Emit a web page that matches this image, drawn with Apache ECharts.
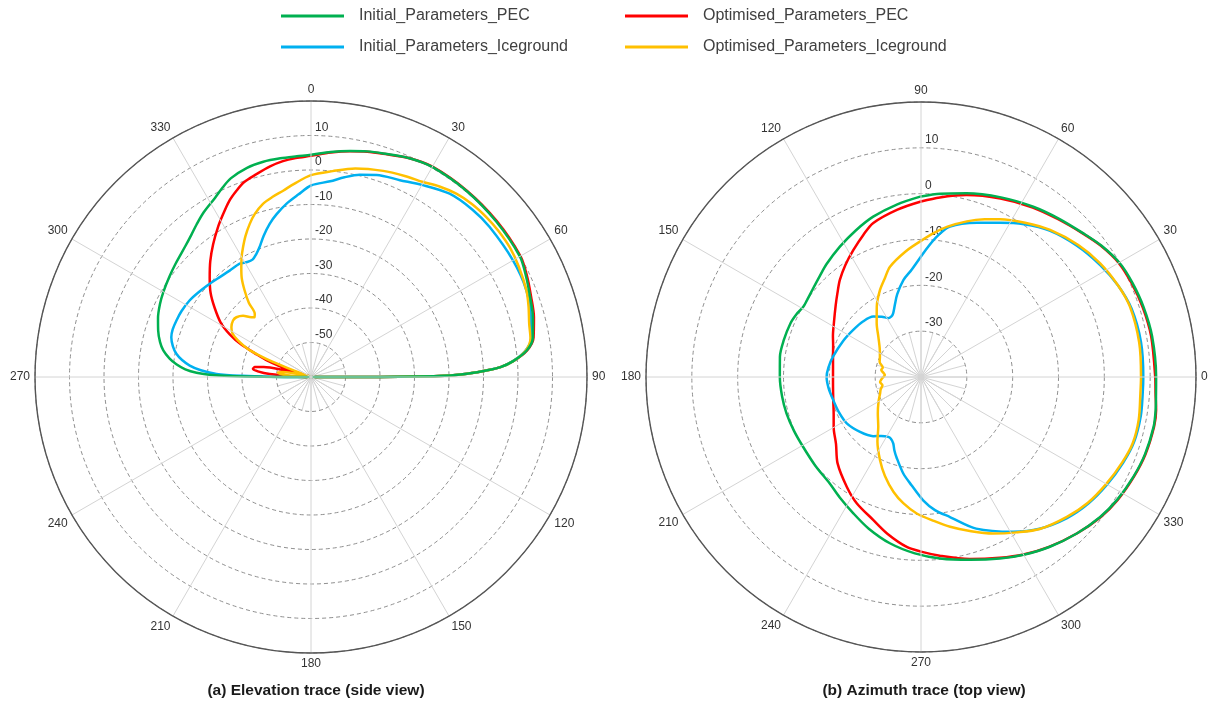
<!DOCTYPE html>
<html>
<head>
<meta charset="utf-8">
<script src="https://cdn.jsdelivr.net/npm/echarts@6/dist/echarts.min.js"></script>
<style>
  html, body { margin: 0; padding: 0; background: #ffffff; }
  #chart { width: 1208px; height: 702px; }
</style>
</head>
<body>
<div id="chart"></div>
<script>
// Series names and colours
const seriesNames = ['Initial_Parameters_PEC', 'Optimised_Parameters_PEC',
                     'Initial_Parameters_Iceground', 'Optimised_Parameters_Iceground'];
const seriesColors = ['#00B050', '#FF0000', '#00B0F0', '#FFC000'];

// Panel captions
const captionElevation = '(a) Elevation trace (side view)';
const captionAzimuth = '(b) Azimuth trace (top view)';

// Gain scales (dB)
const elevRange = [-60, 20];
const azimRange = [-40, 20];
const gainStep = 10;
const angleStep = 30;

// Elevation trace: [angle deg (0 = up, clockwise), gain dB]
const elevInitialPEC = [
  [270, -60], [270.3, -46], [270.7, -36.4], [271.3, -30.5], [272.1, -26.8], [273.5, -23.5],
  [275.4, -20.8], [277.5, -18.6], [280.2, -16.5], [283, -15.1], [286.9, -13.7], [291, -12.5],
  [295.7, -11.4], [300, -10.6], [305.3, -9.7], [310, -8.8], [316.2, -7.4], [320, -6.1],
  [323.2, -4.7], [327, -3.0], [331.8, -1.1], [335, 0.6], [338, 2.1], [343, 3.4], [347.5, 3.9],
  [352, 4.0], [356.3, 4.1], [0, 4.4], [5, 5.5], [9.8, 6.5], [14, 7.4], [17.9, 8.1],
  [24, 9.5], [30, 10.3], [40, 10.3], [50, 10.1], [60, 9.9], [65, 8.8], [70, 7.6], [75, 6.6],
  [80, 5.3], [83, 3.0], [85.5, -1.2], [87, -5.0], [88, -10], [89, -16], [89.6, -23], [89.9, -40], [90, -60]
];
const elevOptimisedPEC = [
  [270, -60], [272, -55], [274, -48], [276, -44.5], [278, -43], [280, -43.5], [282, -46],
  [284, -51], [286, -58], [287, -60], [288, -55], [289, -50.5], [290.5, -46.5], [292.6, -42.9],
  [295, -37.6], [297.7, -33.4], [301, -29.5], [305.7, -25.6], [310, -22.0], [314.4, -18.9],
  [319, -15.5], [323.6, -12.2], [328, -9.0], [331.6, -6.4], [335, -3.8], [338.1, -1.9],
  [341, -0.3], [345, 0.9], [349, 2.2], [352.6, 3.1], [356, 3.6], [0, 4.1], [5, 5.3],
  [9.8, 6.4], [14, 7.3], [17.9, 8.0], [24, 9.5], [30, 10.4], [40, 10.4], [50, 10.3],
  [60, 10.1], [65, 9.1], [70, 7.9], [75, 6.9], [80, 5.5], [83, 3.1], [85.5, -1.1],
  [87, -5.0], [88, -10], [89, -16], [89.6, -23], [89.9, -40], [90, -60]
];
const elevInitialIce = [
  [270, -60], [270.4, -48], [271, -40], [271.9, -32.6], [273.5, -28], [275.4, -24.7],
  [277.5, -22.3], [279.8, -20.4], [282.5, -19.0], [285.9, -17.9], [289, -17.6], [292.8, -17.7],
  [297, -17.9], [302.2, -18.4], [307, -19.2], [312.6, -20.1], [317, -20.7], [322.6, -21.2],
  [327.8, -21.2], [331, -21.9], [333.5, -22.0], [336, -21.0], [338.4, -19.5], [341.5, -16.8],
  [344.9, -14.0], [348, -11.8], [351.9, -9.3], [356, -7.0], [0, -4.5], [5.6, -3.0],
  [9.5, -1.3], [13.5, 0.3], [18, 1.6], [24.3, 2.6], [30, 4.3], [37.1, 6.6], [44, 7.4],
  [50, 7.6], [60, 7.6], [68, 7.3], [75, 6.0], [80, 4.8], [83, 2.6], [85.5, -1.3],
  [87, -5.0], [88, -10], [89, -16], [89.6, -23], [89.9, -40], [90, -60]
];
const elevOptimisedIce = [
  [270, -60], [272, -57], [274, -53], [276, -51], [278, -50.3], [280, -51.5], [282, -54],
  [284, -57], [286, -59], [289, -60], [290.5, -55], [291.5, -50], [292.4, -45], [294, -40],
  [296.6, -36.3], [299, -34.0], [302, -32.8], [305.9, -32.1], [308.7, -32.3], [312, -33.5],
  [315, -35.5], [316.7, -36.2], [318.3, -35.5], [320, -32.0], [322.5, -28.4], [325, -25.0],
  [327.6, -22.3], [330, -19.8], [332.4, -17.5], [335, -15.0], [338.2, -12.2], [341, -10.0],
  [344.5, -7.9], [348, -6.6], [351.5, -5.4], [355, -3.8], [0, -1.5], [6, 0.0], [12, 1.8],
  [19.3, 3.3], [25, 4.3], [29.9, 5.2], [34, 6.6], [38.4, 7.8], [43, 8.5], [47.7, 8.8],
  [52, 8.9], [56.9, 8.8], [62, 8.2], [68.1, 7.3], [72, 6.3], [76.3, 5.1], [80, 4.6],
  [83, 2.7], [85.5, -1.2], [87, -5.0], [88, -10], [89, -16], [89.6, -23], [89.9, -40], [90, -60]
];

// Azimuth trace: [angle deg (0 = right, counter-clockwise), gain dB]
const azimInitialPEC = [
  [0, 11.3], [10, 11.2], [17.5, 10.9], [24, 10.5], [29.7, 10.0], [36, 8.7], [41.5, 7.3],
  [49, 5.8], [56.6, 4.5], [66, 2.9], [76.1, 1.3], [84, 0.2], [90, -0.6], [98, -2.0],
  [106.6, -3.5], [114, -5.0], [121.9, -6.5], [130, -7.9], [135, -8.8], [141.1, -9.6],
  [146, -10.0], [149.2, -10.1], [153, -9.6], [157.7, -9.2], [165, -9.0], [171.8, -8.9],
  [180, -9.2], [188, -9.4], [195.1, -9.6], [203, -9.9], [210.6, -10.1], [220, -9.9],
  [229.4, -9.4], [236, -8.3], [243.6, -6.8], [251, -5.0], [259.4, -3.1], [268, -1.5],
  [276, -0.2], [285, 1.3], [293.5, 3.2], [300, 4.8], [307.2, 6.5], [315, 8.2], [322, 9.6],
  [328, 10.5], [334.8, 11.2], [341, 11.7], [347.9, 11.9], [352, 11.7], [356, 11.4]
];
const azimOptimisedPEC = [
  [0, 11.1], [10, 11.0], [17.5, 10.7], [24, 10.3], [30, 9.8], [36, 8.6], [41.5, 7.2],
  [49, 5.6], [56.6, 4.3], [66, 2.6], [76, 0.9], [84, -0.6], [90, -1.7], [98, -3.1],
  [107.2, -4.8], [112, -6.5], [118, -8.6], [124, -10.5], [129.9, -12.4], [135, -14.2],
  [140, -15.7], [148, -17.6], [155, -18.8], [160, -19.6], [167, -20.3], [174, -20.7],
  [180, -20.8], [186, -20.7], [190.5, -20.5], [196, -20.1], [203, -19.3], [210, -18.0],
  [218.2, -16.4], [226, -13.8], [235.9, -11.1], [243, -9.1], [251.6, -7.1], [258, -5.0],
  [265.2, -2.8], [270, -1.9], [276, -0.8], [285, 1.1], [293.5, 3.0], [300, 4.7], [307, 6.4],
  [315, 8.2], [322, 9.7], [328, 10.6], [335, 11.3], [341, 11.8], [348, 12.0], [352, 11.8],
  [356, 11.3]
];
const azimInitialIce = [
  [0, 8.5], [9, 8.6], [18, 8.3], [25, 7.4], [32, 6.1], [40, 4.5], [48.7, 2.5], [56, 0.2],
  [62.9, -2.2], [70, -4.2], [79.1, -6.6], [84, -9.5], [90, -13.7], [95, -16.5], [100.3, -18.5],
  [106, -21.2], [110, -23.3], [113.5, -24.8], [116, -25.3], [119.1, -25.3], [123, -24.3],
  [128.3, -23.2], [136, -22.5], [145.2, -22.0], [155, -21.3], [167, -20.3], [174, -19.7],
  [180, -19.4], [187, -19.7], [194.7, -20.2], [203, -20.5], [212, -20.9], [222, -22.1],
  [231, -23.4], [236, -24.5], [241.3, -25.1], [244, -25.0], [247.3, -24.3], [250, -23.0],
  [253, -21.7], [259.6, -18.6], [265, -16.3], [271, -13.1], [276, -10.8], [281.7, -8.8],
  [290, -4.8], [300.8, -0.7], [308, 2.0], [316, 4.3], [323, 5.8], [330, 6.9], [337, 7.9],
  [343, 8.6], [350, 8.7], [356, 8.5]
];
const azimOptimisedIce = [
  [0, 8.0], [9, 8.2], [18.6, 8.1], [25, 7.4], [32.4, 6.3], [40, 4.8], [48.7, 2.7], [56, 0.6],
  [63.4, -1.5], [68, -2.9], [73.6, -4.6], [80, -6.7], [85, -8.5], [90, -10.3], [97, -12.4],
  [105.7, -15.0], [110, -17.0], [115.2, -19.0], [122, -21.8], [129.5, -24.8], [137, -27.3],
  [145, -29.0], [153.7, -30.0], [160, -30.4], [166, -31.4], [170, -31.2], [174, -31.8],
  [177, -32.1], [182, -31.5], [187, -31.0], [192, -31.4], [197, -30.8], [201.7, -30.4],
  [210, -29.3], [220, -27.7], [229.3, -25.7], [236, -23.0], [243.7, -19.8], [250, -17.0],
  [256.6, -14.2], [262, -12.2], [268.2, -10.2], [275, -8.5], [281, -6.7], [288, -4.6],
  [294.7, -2.4], [301.6, -0.2], [308, 2.1], [316.2, 4.1], [323, 5.6], [330.2, 6.7],
  [337, 7.7], [342.7, 8.4], [349, 8.4], [355.7, 8.0]
];

const elevData = [elevInitialPEC, elevOptimisedPEC, elevInitialIce, elevOptimisedIce];
const azimData = [azimInitialPEC, azimOptimisedPEC, azimInitialIce, azimOptimisedIce];

// Azimuth axis runs from 90 to 450 so that the gain labels sit on the vertical spoke;
// angles below 90 are shifted by one turn and the curve is closed at 450.
function azimPoints(pairs) {
  const pts = pairs.map(([a, g]) => [g, a < 90 ? a + 360 : a]);
  pts.sort((p, q) => p[1] - q[1]);
  const first = pts[0];
  pts.push([first[0], first[1] + 360]);
  return pts;
}
function elevPoints(pairs) {
  return pairs.map(([a, g]) => [g, a]);
}

const labelFont = 'Arial, "Liberation Sans", sans-serif';
const textColor = '#333333';

function angleAxisFor(polarIndex, startAngle, clockwise, min) {
  return {
    polarIndex, type: 'value', min, max: min + 360, interval: angleStep,
    startAngle, clockwise, z: 4,
    axisLine: { show: true, lineStyle: { color: '#555555', width: 1.4 } },
    axisTick: { show: false },
    axisLabel: {
      margin: 5, color: textColor, fontSize: 12, fontFamily: labelFont,
      formatter: v => String(((v % 360) + 360) % 360)
    },
    splitLine: { show: true, lineStyle: { color: '#d4d4d4', width: 1 } }
  };
}
function radiusAxisFor(polarIndex, range) {
  return {
    polarIndex, type: 'value', min: range[0], max: range[1], interval: gainStep, z: 2,
    axisLine: { show: false }, axisTick: { show: false },
    axisLabel: {
      showMinLabel: false, showMaxLabel: false, margin: 0, rotate: 0,
      color: textColor, fontSize: 12, fontFamily: labelFont,
      align: 'left', verticalAlign: 'bottom', padding: [0, 0, 2, 4]
    },
    splitLine: { show: true, lineStyle: { color: '#8f8f8f', width: 1, type: [4, 3] } }
  };
}
// Short spokes inside the innermost ring
function hubAngleAxis(polarIndex, startAngle) {
  return {
    polarIndex, type: 'value', min: 0, max: 360, interval: 15, startAngle,
    axisLine: { show: false }, axisTick: { show: false }, axisLabel: { show: false },
    splitLine: { show: true, lineStyle: { color: '#d4d4d4', width: 1 } }
  };
}
function hubRadiusAxis(polarIndex) {
  return {
    polarIndex, type: 'value', min: 0, max: 1,
    axisLine: { show: false }, axisTick: { show: false }, axisLabel: { show: false },
    splitLine: { show: false }
  };
}

const lineSeries = [];
elevData.forEach((d, i) => lineSeries.push({
  name: seriesNames[i], type: 'line', coordinateSystem: 'polar', polarIndex: 0,
  data: elevPoints(d), showSymbol: false, smooth: 0.3, clip: false,
  lineStyle: { width: 2.5, color: seriesColors[i] }, itemStyle: { color: seriesColors[i] }
}));
azimData.forEach((d, i) => lineSeries.push({
  name: seriesNames[i], type: 'line', coordinateSystem: 'polar', polarIndex: 1,
  data: azimPoints(d), showSymbol: false, smooth: 0.3, clip: false,
  lineStyle: { width: 2.5, color: seriesColors[i] }, itemStyle: { color: seriesColors[i] }
}));
// draw order: red, blue, yellow, green on top
const drawOrder = [1, 2, 3, 0];
const orderedSeries = [];
[0, 4].forEach(off => drawOrder.forEach(k => orderedSeries.push(lineSeries[off + k])));

const legendCommon = {
  orient: 'vertical', icon: 'rect', itemWidth: 63, itemHeight: 3, itemGap: 11, top: 1,
  textStyle: { fontSize: 16, fontFamily: labelFont, color: '#404040', lineHeight: 20, padding: [0, 0, 0, 10] }
};

const chart = echarts.init(document.getElementById('chart'), null, { renderer: 'canvas' });
chart.setOption({
  animation: false,
  backgroundColor: '#ffffff',
  title: [
    { text: captionElevation, left: 311, top: 678, textAlign: 'center',
      textStyle: { fontSize: 15.5, fontWeight: 'bold', fontFamily: labelFont, color: '#1a1a1a' } },
    { text: captionAzimuth, left: 919, top: 678, textAlign: 'center',
      textStyle: { fontSize: 15.5, fontWeight: 'bold', fontFamily: labelFont, color: '#1a1a1a' } }
  ],
  legend: [
    Object.assign({}, legendCommon, { left: 276, data: [seriesNames[0], seriesNames[2]] }),
    Object.assign({}, legendCommon, { left: 620, data: [seriesNames[1], seriesNames[3]] })
  ],
  polar: [
    { center: [311, 377], radius: 276 },
    { center: [921, 377], radius: 275 },
    { center: [311, 377], radius: 34.5 },
    { center: [921, 377], radius: 45.8 }
  ],
  angleAxis: [
    angleAxisFor(0, 90, true, 0),
    angleAxisFor(1, 90, false, 90),
    hubAngleAxis(2, 90),
    hubAngleAxis(3, 90)
  ],
  radiusAxis: [
    radiusAxisFor(0, elevRange),
    radiusAxisFor(1, azimRange),
    hubRadiusAxis(2),
    hubRadiusAxis(3)
  ],
  series: orderedSeries
});
</script>
</body>
</html>
